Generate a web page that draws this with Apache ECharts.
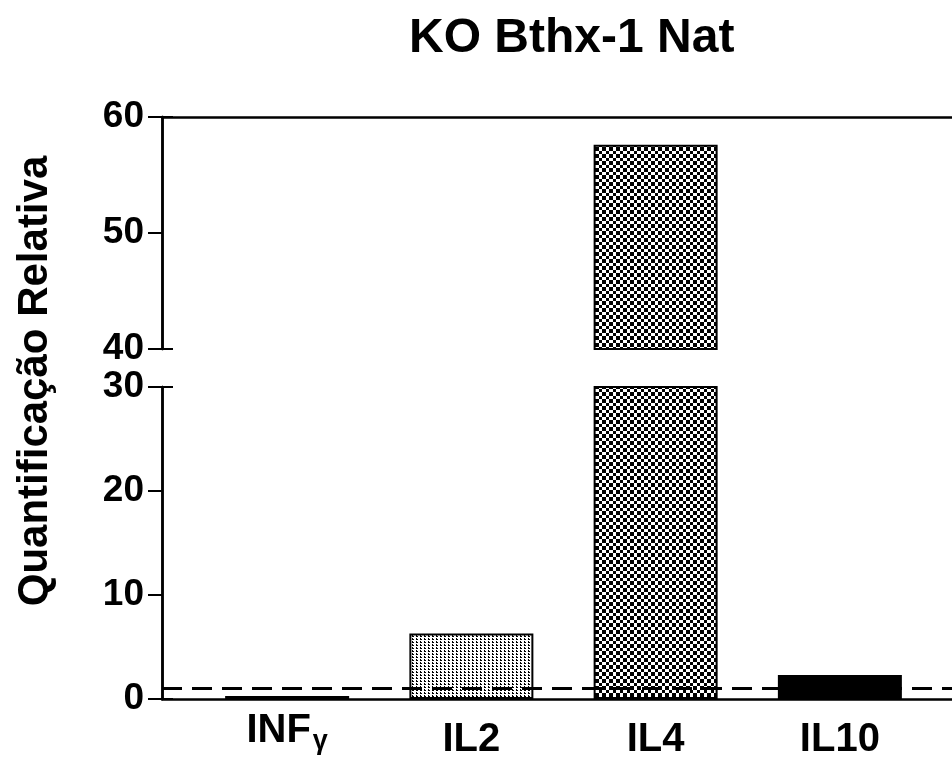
<!DOCTYPE html>
<html>
<head>
<meta charset="utf-8">
<script src="https://cdn.jsdelivr.net/npm/echarts@6/dist/echarts.min.js"></script>
<style>
  html, body { margin: 0; padding: 0; background: #fff; }
  #chart { width: 952px; height: 758px; }
</style>
</head>
<body>
<div id="chart"></div>
<script>
// data
const categories = ['INFγ', 'IL2', 'IL4', 'IL10'];
const values = [0.3, 6.3, 57.6, 2.3];
const baseline = 1;          // dashed reference line
const lowerRange = [0, 30];  // bottom segment of the broken axis
const upperRange = [40, 60]; // top segment
const tickStep = 10;

const FONT = '"Liberation Sans", Arial, sans-serif';

function makePattern(w, h, draw) {
  const c = document.createElement('canvas');
  c.width = w;
  c.height = h;
  const ctx = c.getContext('2d');
  ctx.fillStyle = '#fff';
  ctx.fillRect(0, 0, w, h);
  ctx.fillStyle = '#000';
  draw(ctx);
  return { image: c, repeat: 'repeat' };
}

// fine dotted fill for IL2
const dotFill = makePattern(4, 3, ctx => {
  ctx.fillRect(0, 0, 2, 1);
  ctx.fillRect(0, 2, 1, 1);
});
// checkerboard for IL4
const checkFill = makePattern(7, 7, ctx => {
  ctx.fillRect(0, 0, 4, 4);
  ctx.fillRect(4, 4, 3, 3);
});
const fills = ['#000', dotFill, checkFill, '#000'];

const chart = echarts.init(document.getElementById('chart'));

const barItems = (keep) => values.map((v, i) => keep(v) ? {
  value: v,
  itemStyle: { color: fills[i] }
} : '-');

const frameLine = { show: true, lineStyle: { color: '#000', width: 2.5 } };
const hiddenAxis = { show: false };

const tickLabel = {
  color: '#000',
  fontSize: 37,
  fontWeight: 'bold',
  fontFamily: FONT,
  margin: 18
};

const gridBase = { outerBoundsMode: 'none', containLabel: false };

const option = {
  animation: false,
  backgroundColor: '#fff',
  title: {
    text: 'KO Bthx-1 Nat',
    left: 404,
    top: 10,
    textStyle: { color: '#000', fontSize: 48, fontWeight: 'bold', fontFamily: FONT }
  },
  graphic: [{
    type: 'text',
    x: 35,
    y: 381,
    rotation: Math.PI / 2,
    style: {
      text: 'Quantificação Relativa',
      font: 'bold 42px ' + FONT,
      fill: '#000',
      textAlign: 'center',
      textVerticalAlign: 'middle'
    }
  }],
  grid: [
    // bars, bottom segment
    { ...gridBase, left: 195, right: 20, top: 387, height: 312 },
    // bars, top segment
    { ...gridBase, left: 195, right: 20, top: 117, height: 232 },
    // full width frame, bottom segment
    { ...gridBase, left: 162, right: 0, top: 387, height: 312 },
    // full width frame, top segment
    { ...gridBase, left: 162, right: 0, top: 117, height: 232 }
  ],
  xAxis: [
    {
      gridIndex: 0,
      type: 'category',
      data: categories,
      axisLine: { show: false },
      axisTick: { show: false },
      axisLabel: {
        margin: 41,
        verticalAlign: 'middle',
        formatter: (v) => v === 'INFγ' ? '{a|INF}{g|γ}' : '{b|' + v + '}',
        rich: {
          a: { color: '#000', fontSize: 40, fontWeight: 'bold', fontFamily: FONT, verticalAlign: 'top', padding: [0, 0, 18, 0] },
          b: { color: '#000', fontSize: 40, fontWeight: 'bold', fontFamily: FONT },
          g: { color: '#000', fontSize: 27, fontWeight: 'bold', fontFamily: FONT, verticalAlign: 'top', padding: [17, 0, 0, 2] }
        }
      }
    },
    { gridIndex: 1, type: 'category', data: categories, ...hiddenAxis },
    {
      gridIndex: 2, type: 'value', min: 0, max: 1,
      axisLine: frameLine, axisTick: { show: false }, axisLabel: { show: false }, splitLine: { show: false }
    },
    {
      gridIndex: 3, type: 'value', min: 0, max: 1, position: 'top',
      axisLine: frameLine, axisTick: { show: false }, axisLabel: { show: false }, splitLine: { show: false }
    }
  ],
  yAxis: [
    { gridIndex: 0, type: 'value', min: lowerRange[0], max: lowerRange[1], ...hiddenAxis },
    { gridIndex: 1, type: 'value', min: upperRange[0], max: upperRange[1], ...hiddenAxis },
    {
      gridIndex: 2, type: 'value', position: 'left',
      min: lowerRange[0], max: lowerRange[1], interval: tickStep,
      axisLine: frameLine,
      axisTick: { show: true, length: 14, lineStyle: { color: '#000', width: 2 } },
      axisLabel: tickLabel,
      splitLine: { show: false }
    },
    {
      gridIndex: 3, type: 'value', position: 'left',
      min: upperRange[0], max: upperRange[1], interval: tickStep,
      axisLine: frameLine,
      axisTick: { show: true, length: 14, lineStyle: { color: '#000', width: 2 } },
      axisLabel: tickLabel,
      splitLine: { show: false }
    },
    // caps at the break
    {
      gridIndex: 2, type: 'value', position: 'left', offset: 0,
      min: lowerRange[0], max: lowerRange[1],
      interval: lowerRange[1] - lowerRange[0],
      axisLine: frameLine,
      axisTick: { show: true, inside: true, length: 11, lineStyle: { color: '#000', width: 2 } },
      axisLabel: { show: false },
      splitLine: { show: false }
    },
    {
      gridIndex: 3, type: 'value', position: 'left', offset: 0,
      min: upperRange[0], max: upperRange[1],
      interval: upperRange[1] - upperRange[0],
      axisLine: frameLine,
      axisTick: { show: true, inside: true, length: 11, lineStyle: { color: '#000', width: 2 } },
      axisLabel: { show: false },
      splitLine: { show: false }
    }
  ],
  series: [
    {
      type: 'bar',
      xAxisIndex: 0,
      yAxisIndex: 0,
      barWidth: 124,
      z: 2,
      itemStyle: { borderColor: '#000', borderWidth: 2 },
      data: barItems(() => true)
    },
    {
      type: 'bar',
      xAxisIndex: 1,
      yAxisIndex: 1,
      barWidth: 124,
      z: 2,
      itemStyle: { borderColor: '#000', borderWidth: 2 },
      data: barItems(v => v > upperRange[0])
    },
    {
      type: 'line',
      xAxisIndex: 2,
      yAxisIndex: 2,
      z: 5,
      showSymbol: false,
      lineStyle: { color: '#000', width: 3, type: [20, 10] },
      data: [[0, baseline], [1, baseline]]
    }
  ]
};

chart.setOption(option);
</script>
</body>
</html>
